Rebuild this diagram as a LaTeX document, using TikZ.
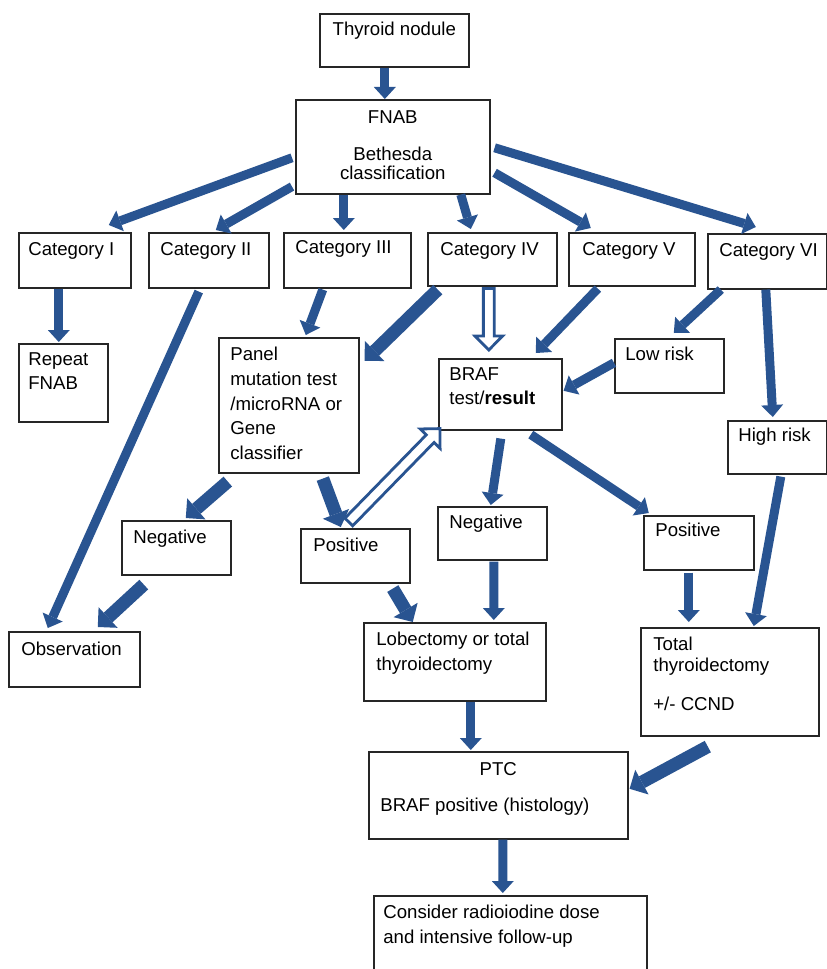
\documentclass[tikz,border=0pt]{standalone}
\usepackage{fontspec}
\setmainfont{Liberation Sans}
\usetikzlibrary{arrows.meta,calc}

\definecolor{flowblue}{RGB}{41,84,145}
\newcommand{\pix}{0.02cm}
% hollow block arrow from #1 to #2
\newcommand{\hollowarr}[2]{\draw[hollow] let \p1=(#1), \p2=(#2), \n1={atan2(\y2-\y1,\x2-\x1)}, \n2={veclen(\x2-\x1,\y2-\y1)} in
  [shift={(\p1)}, rotate=\n1] (0pt,-3.1pt) -- ({\n2*1pt-8pt},-3.1pt) -- ({\n2*1pt-8pt},-7.9pt) -- ({\n2*1pt},0pt)
  -- ({\n2*1pt-8pt},7.9pt) -- ({\n2*1pt-8pt},3.1pt) -- (0pt,3.1pt) -- cycle;}

\tikzset{
  box/.style={draw=black!85, line width=0.9pt, anchor=north west, inner sep=0pt},
  txt/.style={anchor=north west, inner sep=0pt, align=left, font=\fontsize{10.6}{14}\selectfont},
  arr/.style={draw=flowblue, line width=0.18cm, -{Triangle[length=0.24cm, width=0.44cm, line width=0pt]}},
  fatarr/.style={draw=flowblue, line width=0.26cm, -{Triangle[length=0.28cm, width=0.56cm, line width=0pt]}},
  hollow/.style={draw=flowblue, line width=1.6pt, fill=white, line join=miter}
}

\begin{document}
\begin{tikzpicture}[x=0.02cm, y=0.02cm]
\useasboundingbox[fill=white] (0,0) rectangle (827,-969);

%%%%% boxes
\node[box, minimum width=149*\pix, minimum height=53*\pix] (nodule) at (319,-13) {};
\node[box, minimum width=194*\pix, minimum height=94*\pix] (fnab) at (295,-99) {};

\node[box, minimum width=112*\pix, minimum height=55*\pix] (cat1) at (18,-232) {};
\node[box, minimum width=120*\pix, minimum height=55*\pix] (cat2) at (148,-232) {};
\node[box, minimum width=127*\pix, minimum height=55*\pix] (cat3) at (283,-232) {};
\node[box, minimum width=129*\pix, minimum height=53*\pix] (cat4) at (427,-232) {};
\node[box, minimum width=126*\pix, minimum height=53*\pix] (cat5) at (568,-232) {};
\node[box, minimum width=119*\pix, minimum height=55*\pix] (cat6) at (707,-233) {};

\node[box, minimum width=89*\pix, minimum height=78*\pix] (repeat) at (18,-343) {};
\node[box, minimum width=140*\pix, minimum height=135*\pix] (panel) at (218,-337) {};
\node[box, minimum width=123*\pix, minimum height=71*\pix] (braf) at (438,-358) {};
\node[box, minimum width=109*\pix, minimum height=54*\pix] (lowrisk) at (614,-338) {};
\node[box, minimum width=99*\pix, minimum height=53*\pix] (highrisk) at (727,-420) {};

\node[box, minimum width=109*\pix, minimum height=54*\pix] (negA) at (121,-520) {};
\node[box, minimum width=109*\pix, minimum height=54*\pix] (posA) at (300,-528) {};
\node[box, minimum width=109*\pix, minimum height=53*\pix] (negB) at (437,-506) {};
\node[box, minimum width=110*\pix, minimum height=54*\pix] (posB) at (643,-515) {};

\node[box, minimum width=131*\pix, minimum height=55*\pix] (observe) at (8,-631) {};
\node[box, minimum width=182*\pix, minimum height=78*\pix] (lobect) at (363,-622) {};
\node[box, minimum width=178*\pix, minimum height=108*\pix] (totalthy) at (640,-627) {};
\node[box, minimum width=259*\pix, minimum height=87*\pix] (ptc) at (368,-751) {};
\node[box, minimum width=273*\pix, minimum height=95*\pix] (consider) at (373,-895) {};

%%%%% texts
\node[txt, anchor=north] (nodule-t) at ([shift={(0,-9)}]nodule.north) {Thyroid nodule};
\node[txt, anchor=north, align=center] (fnab-t) at ([shift={(0,-11)}]fnab.north) {FNAB\\[7.5pt]Bethesda\\[-3.5pt]classification};
\node[txt] (cat1-t) at ([shift={(10,-10)}]cat1.north west) {Category I};
\node[txt] (cat2-t) at ([shift={(12,-10)}]cat2.north west) {Category II};
\node[txt] (cat3-t) at ([shift={(12,-8)}]cat3.north west) {Category III};
\node[txt] (cat4-t) at ([shift={(13,-10)}]cat4.north west) {Category IV};
\node[txt] (cat5-t) at ([shift={(14,-10)}]cat5.north west) {Category V};
\node[txt] (cat6-t) at ([shift={(12,-10)}]cat6.north west) {Category VI};
\node[txt] (repeat-t) at ([shift={(10,-9)}]repeat.north west) {Repeat\\FNAB};
\node[txt] (panel-t) at ([shift={(12,-10)}]panel.north west) {Panel\\mutation test\\/microRNA or\\Gene\\classifier};
\node[txt] (braf-t) at ([shift={(11,-9)}]braf.north west) {BRAF\\test/\textbf{result}};
\node[txt] (lowrisk-t) at ([shift={(11,-9)}]lowrisk.north west) {Low risk};
\node[txt] (highrisk-t) at ([shift={(11,-8)}]highrisk.north west) {High risk};
\node[txt] (negA-t) at ([shift={(12,-10)}]negA.north west) {Negative};
\node[txt] (posA-t) at ([shift={(13,-10)}]posA.north west) {Positive};
\node[txt] (negB-t) at ([shift={(12,-9)}]negB.north west) {Negative};
\node[txt] (posB-t) at ([shift={(12,-8)}]posB.north west) {Positive};
\node[txt] (observe-t) at ([shift={(13,-11)}]observe.north west) {Observation};
\node[txt] (lobect-t) at ([shift={(13,-10)}]lobect.north west) {Lobectomy or total\\thyroidectomy};
\node[txt] (totalthy-t) at ([shift={(13,-10)}]totalthy.north west) {Total\\[-2pt]thyroidectomy\\[8pt]+/- CCND};
\node[txt, anchor=north] (ptc-t) at ([shift={(0,-11)}]ptc.north) {PTC};
\node[txt] (ptc-b) at ([shift={(12,-47)}]ptc.north west) {BRAF positive (histology)};
\node[txt] (consider-t) at ([shift={(10,-10)}]consider.north west) {Consider radioiodine dose\\and intensive follow-up};

%%%%% arrows
\draw[arr] ([shift={(-9.5,0)}]nodule.south) -- ([shift={(-8,0)}]fnab.north);
\draw[arr] ([shift={(-3,-11)}]fnab.west) -- ([shift={(34,7)}]cat1.north);
\draw[arr] ([shift={(-3,8)}]fnab.south west) -- ([shift={(7,2)}]cat2.north);
\draw[arr] ([shift={(-49,0)}]fnab.south) -- ([shift={(-3.5,2)}]cat3.north);
\draw[arr] ([shift={(68,0)}]fnab.south) -- ([shift={(-21.5,3)}]cat4.north);
\draw[arr] ([shift={(4,-26)}]fnab.east) -- ([shift={(-41,4)}]cat5.north);
\draw[arr] ([shift={(4,-1)}]fnab.east) -- ([shift={(-11.5,6)}]cat6.north);

\draw[arr] ([shift={(-16,0)}]cat1.south) -- ([shift={(-4.5,1)}]repeat.north);
\draw[arr] ([shift={(-10,-3)}]cat2.south) -- ([shift={(-26.5,3)}]observe.north);
\draw[arr] ([shift={(-24.5,-1)}]cat3.south) -- ([shift={(17,2)}]panel.north);
\draw[fatarr] ([shift={(-54.5,-3)}]cat4.south) -- ([shift={(5,44.5)}]panel.east);
\hollowarr{[shift={(-3.5,-2)}]cat4.south}{[shift={(-11.5,8)}]braf.north}
\draw[arr] ([shift={(-34,-2)}]cat5.south) -- ([shift={(35.5,5)}]braf.north);
\draw[arr] ([shift={(-46.5,0)}]cat6.south) -- ([shift={(4.5,5)}]lowrisk.north);
\draw[arr] ([shift={(-1.5,0)}]cat6.south) -- ([shift={(-4.5,3)}]highrisk.north);
\draw[arr] ([shift={(0,3)}]lowrisk.west) -- ([shift={(1,3.5)}]braf.east);

\draw[fatarr] ([shift={(-61,-8)}]panel.south) -- ([shift={(9.5,2)}]negA.north);
\draw[fatarr] ([shift={(34,-5)}]panel.south) -- ([shift={(-14.5,1)}]posA.north);
\hollowarr{[shift={(-6.5,6)}]posA.north}{[shift={(2,2)}]braf.south west}
\draw[arr] ([shift={(0.5,-8)}]braf.south) -- ([shift={(-1.5,1)}]negB.north);
\draw[arr] ([shift={(30.5,-4)}]braf.south) -- ([shift={(-50,2)}]posB.north);

\draw[fatarr] ([shift={(-32.5,-9)}]negA.south) -- ([shift={(23.5,4)}]observe.north);
\draw[fatarr] ([shift={(37.5,-5)}]posA.south) -- ([shift={(-42,0)}]lobect.north);
\draw[arr] ([shift={(1.5,-1)}]negB.south) -- ([shift={(39,2)}]lobect.north);
\draw[arr] ([shift={(-10,-2)}]posB.south) -- ([shift={(-41,5)}]totalthy.north);
\draw[arr] ([shift={(3.5,-2)}]highrisk.south) -- ([shift={(24,1)}]totalthy.north);

\draw[arr] ([shift={(16,0)}]lobect.south) -- ([shift={(-27.5,1)}]ptc.north);
\draw[fatarr] ([shift={(-22,-10)}]totalthy.south) -- ([shift={(1,6.5)}]ptc.east);
\draw[arr] ([shift={(4.5,0)}]ptc.south) -- ([shift={(-7.5,2)}]consider.north);
\end{tikzpicture}
\end{document}
